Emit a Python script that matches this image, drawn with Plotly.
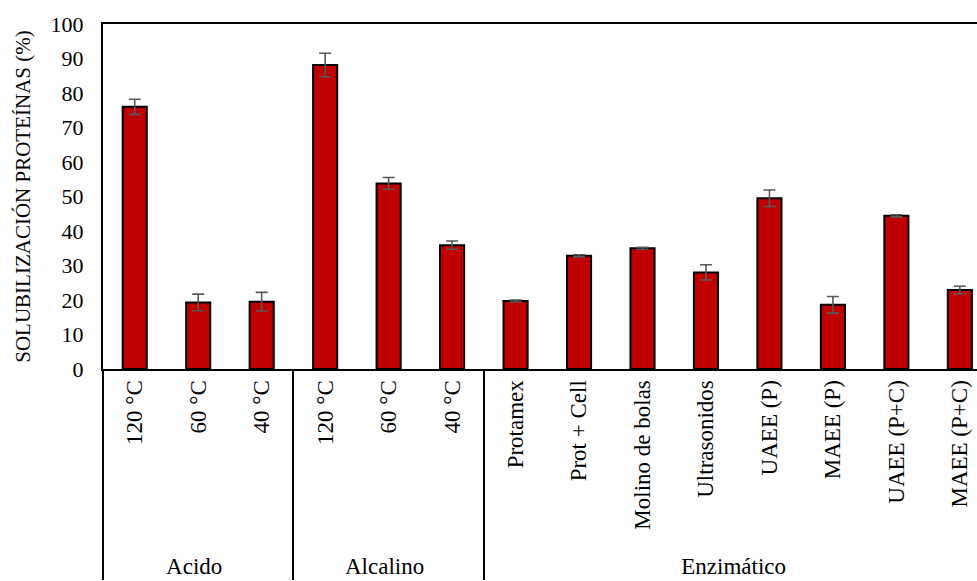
import plotly.graph_objects as go

# Treatment groups and conditions
groups = ["Acido"] * 3 + ["Alcalino"] * 3 + ["Enzimático"] * 8
conditions = [
    "120 °C", "60 °C", "40 °C",
    "120 °C", "60 °C", "40 °C",
    "Protamex", "Prot + Cell", "Molino de bolas", "Ultrasonidos",
    "UAEE (P)", "MAEE (P)", "UAEE (P+C)", "MAEE (P+C)",
]
# Protein solubilization (%) and standard deviation
solubilization = [76.0, 19.3, 19.5, 88.1, 53.8, 35.9,
                  19.7, 32.8, 35.0, 28.0, 49.5, 18.6, 44.4, 22.9]
std_dev = [2.2, 2.4, 2.7, 3.4, 1.7, 1.2,
           0.3, 0.3, 0.3, 2.2, 2.4, 2.4, 0.3, 1.1]
y_ticks = list(range(0, 101, 10))

FONT = "Liberation Serif"

fig = go.Figure(
    go.Bar(
        x=[groups, conditions],
        y=solubilization,
        marker=dict(color="#C00000", line=dict(color="black", width=2)),
        error_y=dict(type="data", array=std_dev, visible=True,
                     color="#595959", thickness=1.6, width=6),
    )
)

fig.update_layout(
    width=977, height=581,
    margin=dict(l=103, r=0, t=24, b=212),
    plot_bgcolor="white", paper_bgcolor="white",
    bargap=0.62,
    showlegend=False,
    font=dict(family=FONT, size=22, color="black"),
)

fig.update_xaxes(
    type="multicategory",
    range=[-0.5, 13.27],
    tickangle=-90,
    tickfont=dict(family=FONT, size=23, color="black"),
    showline=True, linecolor="black", linewidth=2, mirror=True,
    showdividers=True, dividercolor="black", dividerwidth=1.5,
    showgrid=False, ticks="",
)

fig.update_yaxes(
    range=[0, 100],
    tickvals=y_ticks,
    tickfont=dict(family=FONT, size=22, color="black"),
    ticklabelstandoff=13,
    showline=True, linecolor="black", linewidth=2, mirror=False,
    showgrid=False, zeroline=False, ticks="",
    title=dict(text="SOLUBILIZACIÓN PROTEÍNAS (%)",
               font=dict(family=FONT, size=21, color="black"),
               standoff=14),
)

fig.write_html("out.html")
